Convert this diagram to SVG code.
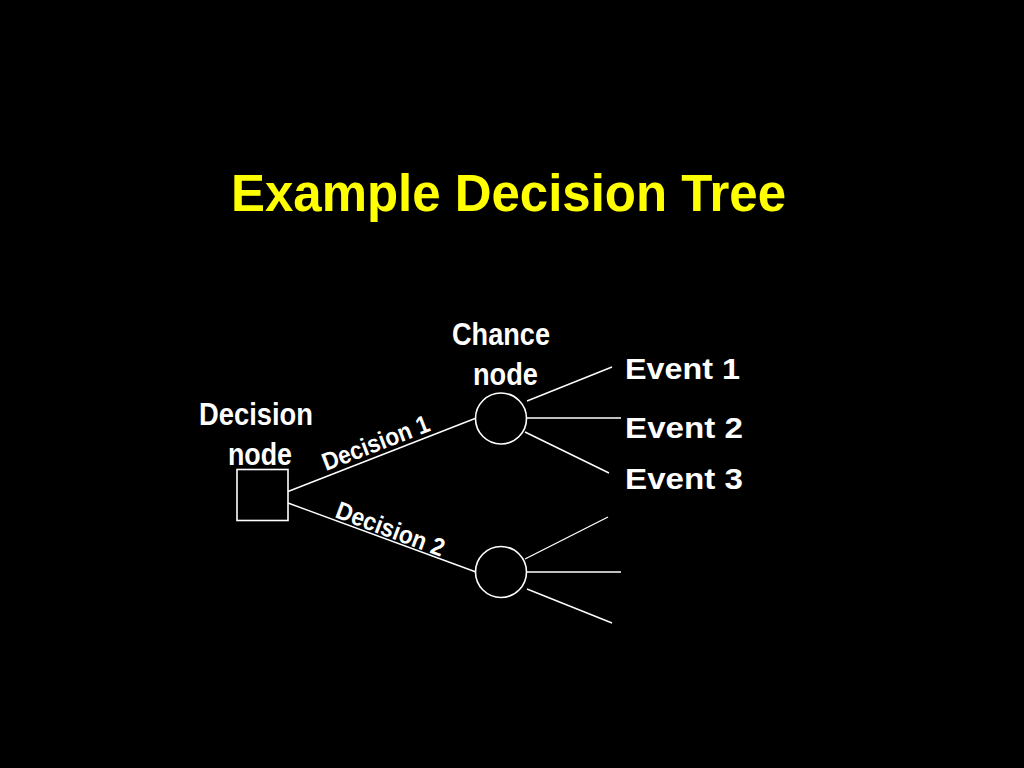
<svg xmlns="http://www.w3.org/2000/svg" width="1024" height="768" viewBox="0 0 1024 768">
<style>
.t{font-family:"Liberation Sans",Arial,sans-serif;font-weight:bold;fill:#fff}
.title{font-family:"Liberation Sans",Arial,sans-serif;font-weight:bold;fill:#ffff00;font-size:51px}
.n{fill:none;stroke:#fff;stroke-width:1.6}
.c line{stroke:#fff;stroke-width:1.4}
</style>
<rect width="1024" height="768" fill="#000"/>
<text class="title" x="231" y="211" textLength="555" lengthAdjust="spacingAndGlyphs">Example Decision Tree</text>
<g class="c" id="connectors">
<line x1="288" y1="491.5" x2="475" y2="418.5"/>
<line x1="288" y1="503" x2="476" y2="572"/>
<line x1="527" y1="401" x2="612" y2="367"/>
<line x1="527" y1="418" x2="621" y2="418"/>
<line x1="525" y1="432" x2="609" y2="473"/>
<line x1="525" y1="559" x2="608" y2="517"/>
<line x1="527" y1="572" x2="621" y2="572"/>
<line x1="527" y1="589" x2="612" y2="623"/>
</g>
<g id="decision-node">
<rect class="n" x="237" y="469.5" width="51" height="51"/>
<text class="t" font-size="31" x="199" y="425" textLength="114" lengthAdjust="spacingAndGlyphs">Decision</text>
<text class="t" font-size="31" x="228" y="465" textLength="64" lengthAdjust="spacingAndGlyphs">node</text>
</g>
<g id="chance-node-1">
<circle class="n" cx="501" cy="418.5" r="25.5"/>
<text class="t" font-size="31" x="452" y="345" textLength="98" lengthAdjust="spacingAndGlyphs">Chance</text>
<text class="t" font-size="31" x="473" y="385" textLength="65" lengthAdjust="spacingAndGlyphs">node</text>
</g>
<g id="chance-node-2">
<circle class="n" cx="501" cy="572" r="25.5"/>
</g>
<g id="label-decision-1">
<text class="t" font-size="25" transform="translate(326,471) rotate(-21)" textLength="113" lengthAdjust="spacingAndGlyphs">Decision 1</text>
</g>
<g id="label-decision-2">
<text class="t" font-size="25" transform="translate(334,517) rotate(20.5)" textLength="114" lengthAdjust="spacingAndGlyphs">Decision 2</text>
</g>
<g id="event-1"><text class="t" font-size="30" x="625" y="379" textLength="115" lengthAdjust="spacingAndGlyphs">Event 1</text></g>
<g id="event-2"><text class="t" font-size="30" x="625" y="438" textLength="118" lengthAdjust="spacingAndGlyphs">Event 2</text></g>
<g id="event-3"><text class="t" font-size="30" x="625" y="489" textLength="118" lengthAdjust="spacingAndGlyphs">Event 3</text></g>
</svg>
